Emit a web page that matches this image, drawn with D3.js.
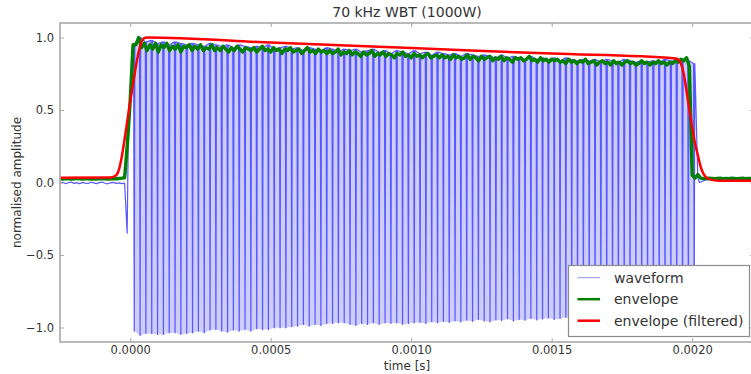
<!DOCTYPE html>
<html>
<head>
<meta charset="utf-8">
<script src="https://cdn.jsdelivr.net/npm/d3@7"></script>
<style>
  html, body { margin: 0; padding: 0; background: #fff; }
  svg { display: block; font-family: "DejaVu Sans", sans-serif; }
</style>
</head>
<body>
<svg id="chart" width="751" height="374"></svg>
<script>
// ---- axes ----
const xTicks = [0, 0.0005, 0.001, 0.0015, 0.002];
const yTicks = [-1, -0.5, 0, 0.5, 1];
const timeDomain = [-0.00025, 0.00222];
const ampDomain = [-1.1, 1.1];

// ---- waveform: one stroke per rendered carrier cycle ----
const cycleStart = 0.0000142;   // s, first cycle trough
const cycleStep = 0.00002076;   // s, spacing between rendered cycles
const cyclePeak = [
  0.96, 1.00, 0.97, 0.98, 0.96, 0.97, 0.95, 0.97, 0.96, 0.95,
  0.96, 0.95, 0.94, 0.96, 0.95, 0.94, 0.95, 0.93, 0.95, 0.94,
  0.93, 0.94, 0.93, 0.95, 0.92, 0.93, 0.94, 0.92, 0.93, 0.91,
  0.93, 0.92, 0.91, 0.93, 0.92, 0.90, 0.92, 0.91, 0.92, 0.90,
  0.91, 0.92, 0.90, 0.91, 0.89, 0.91, 0.90, 0.89, 0.91, 0.89,
  0.90, 0.88, 0.90, 0.89, 0.88, 0.89, 0.87, 0.89, 0.88, 0.87,
  0.88, 0.87, 0.86, 0.88, 0.86, 0.87, 0.86, 0.85, 0.87, 0.85,
  0.86, 0.85, 0.86, 0.84, 0.86, 0.85, 0.84, 0.85, 0.84, 0.85,
  0.83, 0.85, 0.84, 0.83, 0.85, 0.84, 0.83, 0.84, 0.83, 0.84,
  0.83, 0.85, 0.84, 0.83, 0.85, 0.84, 0.82
];
const cycleTrough = [
  -1.025, -1.055, -1.041, -1.041, -1.048, -1.048, -1.037, -1.037, -1.048, -1.041,
  -1.037, -1.025, -1.037, -1.018, -1.014, -1.025, -1.032, -1.018, -1.025, -1.014,
  -1.025, -1.009, -1.014, -1.014, -1.002, -1.002, -1.002, -0.995, -0.991, -0.979,
  -0.991, -0.979, -0.986, -0.973, -0.973, -0.968, -0.968, -0.979, -0.986, -0.973,
  -0.979, -0.968, -0.979, -0.968, -0.973, -0.968, -0.979, -0.973,
  -0.968, -0.965, -0.972, -0.960, -0.968, -0.958, -0.965, -0.955, -0.962, -0.950,
  -0.958, -0.945, -0.955, -0.962, -0.948, -0.952, -0.940, -0.955, -0.945, -0.950,
  -0.938, -0.948, -0.942, -0.935, -0.945, -0.938, -0.930, -0.940, -0.935, -0.928,
  -0.935, -0.925, -0.932, -0.928, -0.920, -0.930, -0.925, -0.918, -0.928, -0.922,
  -0.915, -0.925, -0.918, -0.922, -0.912, -0.920, -0.915, -0.910, -0.905
];
// input before the pulse, sampled every 10 µs
const quietStart = -0.00025;
const quietStep = 0.00001;
const quietLevel = [
  -0.004, 0.002, -0.008, -0.002, 0.003, -0.006, -0.001, -0.009, 0.001, -0.004,
  -0.007, 0.002, -0.003, -0.008, -0.001, 0.003, -0.005, -0.009, -0.002, 0.001,
  -0.006, -0.003, -0.008, -0.004
];
// transient just before the pulse and the tail after it
const precursorTime = [-0.000011, -0.000007];
const precursorValue = [-0.35, 0.30];
const tailTime = [0.00202, 0.002026, 0.00205, 0.00222];
const tailValue = [0.03, 0.0, 0.02, 0.02];

// ---- envelope, sampled every 10 µs ----
const envStart = -0.00025;
const envStep = 0.00001;
const envelope = [
  0.026, 0.024, 0.027, 0.025, 0.023, 0.026, 0.028, 0.025, 0.024, 0.027,
  0.025, 0.023, 0.026, 0.024, 0.027, 0.025, 0.026, 0.024, 0.025, 0.027,
  0.026, 0.028, 0.030,
  0.033, 0.27, 0.57, 0.95,
  0.95, 1.00, 0.93, 0.96, 0.91, 0.95, 0.92, 0.96, 0.90, 0.95,
  0.93, 0.96, 0.91, 0.94, 0.92, 0.95, 0.90, 0.94, 0.93, 0.95,
  0.91, 0.94, 0.92, 0.95, 0.91, 0.93, 0.92, 0.95, 0.91,
  0.93, 0.91, 0.94, 0.92, 0.90, 0.93, 0.91, 0.94, 0.92, 0.90,
  0.93, 0.92, 0.91, 0.93, 0.90, 0.92, 0.94, 0.91, 0.92, 0.90,
  0.93, 0.91, 0.92, 0.89, 0.92, 0.91, 0.93, 0.90, 0.91, 0.92,
  0.89, 0.91, 0.93, 0.90, 0.91, 0.89, 0.92, 0.90, 0.91, 0.89,
  0.91, 0.89, 0.90, 0.92, 0.88, 0.90, 0.89, 0.91, 0.88, 0.90,
  0.89, 0.87, 0.90, 0.88, 0.89, 0.91, 0.87, 0.89, 0.88, 0.90,
  0.87, 0.89, 0.88, 0.86, 0.89, 0.88, 0.90, 0.87, 0.88, 0.86,
  0.89, 0.87, 0.88, 0.86, 0.88, 0.89, 0.86, 0.87, 0.88, 0.86,
  0.88, 0.86, 0.87, 0.85, 0.88, 0.86, 0.87, 0.85, 0.86, 0.88,
  0.85, 0.87, 0.86, 0.84, 0.87, 0.85, 0.86, 0.87, 0.84, 0.86,
  0.85, 0.87, 0.84, 0.86, 0.85, 0.83, 0.86, 0.85, 0.86, 0.84,
  0.85, 0.87, 0.84, 0.85, 0.83, 0.86, 0.84, 0.85, 0.83, 0.85,
  0.84, 0.85, 0.83, 0.84, 0.82, 0.85, 0.83, 0.84, 0.82, 0.84,
  0.83, 0.85, 0.82, 0.83, 0.84, 0.81, 0.83, 0.84, 0.82, 0.83,
  0.81, 0.84, 0.82, 0.83, 0.81, 0.83, 0.84, 0.82, 0.83, 0.81,
  0.82, 0.84, 0.82, 0.83, 0.81, 0.83, 0.82, 0.84, 0.82, 0.83,
  0.81, 0.83, 0.82, 0.84,
  0.83, 0.85, 0.84, 0.86, 0.80, 0.05, 0.03, 0.055, 0.03,
  0.028, 0.027, 0.029, 0.028, 0.026, 0.028, 0.029, 0.027, 0.028, 0.027,
  0.029, 0.028, 0.027, 0.028, 0.029, 0.027, 0.028, 0.028, 0.027
];

// ---- low-pass filtered envelope ----
const filteredTime = [
  -0.00025, -0.00007, -0.00005, -0.00004, -0.00003, -0.00002, -0.00001, 0,
  0.00001, 0.00002, 0.00003, 0.00004, 0.00005, 0.00006, 0.0005, 0.001, 0.0015,
  0.00194, 0.00195, 0.00196, 0.00197, 0.00198, 0.00199, 0.002, 0.00201,
  0.00202, 0.00203, 0.00204, 0.00205, 0.00207, 0.0021, 0.00222
];
const filteredValue = [
  0.033, 0.035, 0.05, 0.09, 0.18, 0.30, 0.43, 0.56,
  0.68, 0.80, 0.90, 0.97, 0.995, 1.0, 0.965, 0.927, 0.889,
  0.856, 0.85, 0.82, 0.75, 0.63, 0.50, 0.38, 0.27,
  0.19, 0.11, 0.06, 0.035, 0.018, 0.012, 0.012
];

const seriesNames = ["waveform", "envelope", "envelope (filtered)"];

// ---- layout ----
const plot = { left: 60, top: 23, right: 754, bottom: 342 };
const svg = d3.select("#chart");

const x = d3.scaleLinear().domain(timeDomain).range([plot.left, plot.right]);
const y = d3.scaleLinear().domain(ampDomain).range([plot.bottom, plot.top]);

svg.append("defs").append("clipPath").attr("id", "plot-clip")
  .append("rect")
  .attr("x", plot.left).attr("y", plot.top)
  .attr("width", plot.right - plot.left).attr("height", plot.bottom - plot.top);

const g = svg.append("g").attr("clip-path", "url(#plot-clip)");

// waveform: pale band filled by the dense carrier, darker cycle strokes on top
const cycles = cyclePeak.map((p, i) => ({
  t: cycleStart + i * cycleStep, peak: p, trough: cycleTrough[i]
}));

g.append("path")
  .datum(cycles)
  .attr("fill", "#cdcdff")
  .attr("d", d3.area()
    .x(d => x(d.t))
    .y0(d => y(d.trough))
    .y1(d => y(d.peak)));

const halfStroke = 0.0000022;
const wave = [];
quietLevel.forEach((v, i) => wave.push([quietStart + i * quietStep, v]));
precursorTime.forEach((t, i) => wave.push([t, precursorValue[i]]));
cycles.forEach(c => {
  wave.push([c.t - halfStroke, c.peak], [c.t, c.trough], [c.t + halfStroke, c.peak]);
});
tailTime.forEach((t, i) => wave.push([t, tailValue[i]]));

g.append("path")
  .datum(wave)
  .attr("fill", "none")
  .attr("stroke", "#5858ff")
  .attr("stroke-width", 1.2)
  .attr("stroke-linejoin", "round")
  .attr("d", d3.line().x(d => x(d[0])).y(d => y(d[1])));

// envelope
g.append("path")
  .datum(envelope)
  .attr("fill", "none")
  .attr("stroke", "#008000")
  .attr("stroke-width", 3.4)
  .attr("stroke-linejoin", "round")
  .attr("d", d3.line().x((d, i) => x(envStart + i * envStep)).y(d => y(d)));

// filtered envelope
g.append("path")
  .datum(filteredTime.map((t, i) => [t, filteredValue[i]]))
  .attr("fill", "none")
  .attr("stroke", "#ff0000")
  .attr("stroke-width", 2.5)
  .attr("stroke-linejoin", "round")
  .attr("d", d3.line().curve(d3.curveMonotoneX).x(d => x(d[0])).y(d => y(d[1])));

// ---- frame and ticks ----
const frameColor = "#a8a8a8";
const textColor = "#333";

function styleAxis(sel, showLabels) {
  sel.select(".domain").remove();
  sel.selectAll(".tick line").attr("stroke", frameColor).attr("stroke-width", 1);
  sel.selectAll(".tick text")
    .attr("fill", textColor)
    .style("font-size", "11.5px")
    .style("font-family", "'DejaVu Sans', sans-serif");
  if (!showLabels) sel.selectAll(".tick text").remove();
}

svg.append("g").attr("transform", `translate(0,${plot.bottom})`)
  .call(d3.axisBottom(x).tickValues(xTicks).tickSize(-4).tickPadding(4)
    .tickFormat(d3.format(".4f")))
  .call(s => styleAxis(s, true));
svg.append("g").attr("transform", `translate(0,${plot.top})`)
  .call(d3.axisTop(x).tickValues(xTicks).tickSize(-4).tickFormat(""))
  .call(s => styleAxis(s, false));
svg.append("g").attr("transform", `translate(${plot.left},0)`)
  .call(d3.axisLeft(y).tickValues(yTicks).tickSize(-4).tickPadding(6)
    .tickFormat(d3.format(".1f")))
  .call(s => styleAxis(s, true));
svg.append("g").attr("transform", `translate(${plot.right},0)`)
  .call(d3.axisRight(y).tickValues(yTicks).tickSize(-4).tickFormat(""))
  .call(s => styleAxis(s, false));

svg.append("rect")
  .attr("x", plot.left).attr("y", plot.top)
  .attr("width", plot.right - plot.left).attr("height", plot.bottom - plot.top)
  .attr("fill", "none").attr("stroke", frameColor).attr("stroke-width", 1.6);

// ---- titles ----
svg.append("text")
  .attr("x", (plot.left + plot.right) / 2).attr("y", 17)
  .attr("text-anchor", "middle").attr("fill", textColor)
  .style("font-size", "14px")
  .text("70 kHz WBT (1000W)");

svg.append("text")
  .attr("x", (plot.left + plot.right) / 2).attr("y", 370)
  .attr("text-anchor", "middle").attr("fill", textColor)
  .style("font-size", "12px")
  .text("time [s]");

svg.append("text")
  .attr("transform", `translate(21,${(plot.top + plot.bottom) / 2}) rotate(-90)`)
  .attr("text-anchor", "middle").attr("fill", textColor)
  .style("font-size", "12px")
  .text("normalised amplitude");

// ---- legend ----
const legend = svg.append("g").attr("transform", "translate(568.5,265.5)");
legend.append("rect")
  .attr("width", 181).attr("height", 71)
  .attr("fill", "#fff").attr("stroke", "#8c8c8c").attr("stroke-width", 1.2);

const legendStyles = [
  { color: "#8f8fff", width: 1 },
  { color: "#008000", width: 2.5 },
  { color: "#ff0000", width: 2.5 }
];
const legendRow = d3.scaleLinear().domain([0, 2]).range([12.2, 55.2]);

seriesNames.forEach((name, i) => {
  const row = legend.append("g").attr("transform", `translate(0,${legendRow(i)})`);
  row.append("line")
    .attr("x1", 9).attr("x2", 31.5)
    .attr("stroke", legendStyles[i].color)
    .attr("stroke-width", legendStyles[i].width);
  row.append("text")
    .attr("x", 45.5).attr("dy", "0.35em")
    .attr("fill", textColor)
    .style("font-size", "14px")
    .text(name);
});
</script>
</body>
</html>
